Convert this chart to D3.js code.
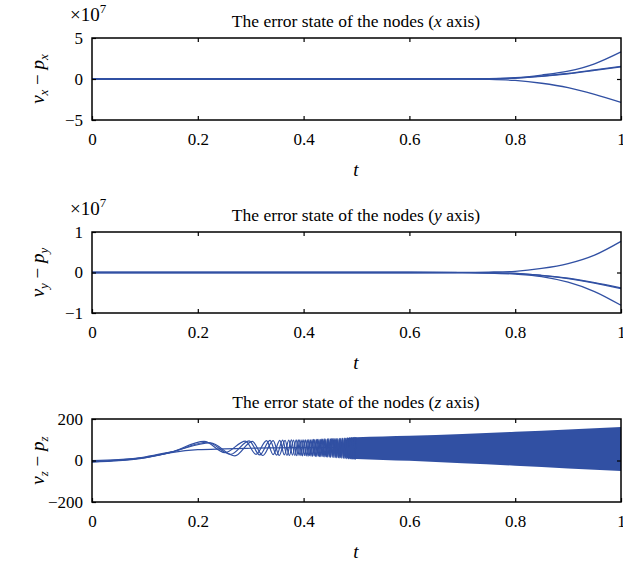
<!DOCTYPE html>
<html>
<head>
<meta charset="utf-8">
<script src="https://cdn.jsdelivr.net/npm/d3@7"></script>
<style>
  body { margin: 0; background: #fff; }
  svg { display: block; font-family: "Liberation Serif", "DejaVu Serif", serif; }
  .tick text { font-size: 17px; fill: #000; font-family: "Liberation Serif", "DejaVu Serif", serif; }
  .tick line { stroke: #000; stroke-width: 1.2; }
</style>
</head>
<body>
<svg width="623" height="561"></svg>
<script>
// ---- data ----
const xTicks = [0, 0.2, 0.4, 0.6, 0.8, 1];

// x panel (units of 1e7)
const tXY = [0, 0.5, 0.7, 0.75, 0.8, 0.85, 0.9, 0.95, 1.0];
const ex1 = [0, 0, 0.01, 0.04, 0.15, 0.48, 0.95, 1.85, 3.3];
const ex2 = [0, 0, 0.01, 0.03, 0.12, 0.35, 0.68, 1.1, 1.54];
const ex3 = [0, 0, 0.005, 0.025, 0.11, 0.33, 0.64, 1.05, 1.47];
const ex4 = [0, 0, -0.01, -0.05, -0.18, -0.52, -1.05, -1.87, -2.85];

// y panel (units of 1e7)
const ey1 = [0, 0, 0.002, 0.01, 0.03, 0.1, 0.22, 0.43, 0.77];
const ey2 = [0, 0, -0.001, -0.006, -0.02, -0.07, -0.14, -0.25, -0.38];
const ey3 = [0, 0, -0.001, -0.007, -0.022, -0.075, -0.15, -0.265, -0.4];
const ey4 = [0, 0, -0.002, -0.012, -0.04, -0.1, -0.24, -0.47, -0.81];

// z panel: extrema of the three oscillating nodes [t, value]
const ezA = [[0,-8],[0.05,-1],[0.1,13],[0.15,40],[0.212,92],[0.251,38],[0.290,93],[0.310,30],[0.330,96],[0.3425,28],
  [0.355,97],[0.3635,27],[0.372,98],[0.379,26],[0.386,99],[0.3915,25],[0.397,100],[0.402,24],[0.407,100],[0.4115,23],
  [0.416,101],[0.420,22],[0.424,102],[0.428,21],[0.4315,102],[0.435,20],[0.4385,103],[0.442,19],[0.445,104],[0.448,18],
  [0.451,104],[0.454,17],[0.457,105],[0.460,16],[0.4625,106],[0.465,15],[0.4675,106],[0.470,14],[0.4725,107],[0.475,13],
  [0.477,108],[0.479,12],[0.4815,108],[0.484,11],[0.486,109],[0.488,10],[0.490,110],[0.492,9],[0.494,110],[0.496,8],[0.498,111]];
const ezB = [[0,-4],[0.05,2],[0.1,15],[0.15,40],[0.218,88],[0.262,30],[0.297,95],[0.317,27],[0.3365,97],[0.349,26],
  [0.3605,98],[0.3685,25],[0.377,99],[0.3835,24],[0.390,100],[0.395,23],[0.4005,100],[0.405,22],[0.410,101],[0.414,21],
  [0.4185,102],[0.4225,20],[0.4265,102],[0.430,19],[0.4335,103],[0.437,18],[0.440,104],[0.4435,17],[0.4465,104],[0.4495,16],
  [0.4525,105],[0.4555,15],[0.458,106],[0.461,14],[0.4635,106],[0.466,13],[0.4685,107],[0.471,12],[0.4735,108],[0.4758,11],
  [0.478,108],[0.480,10],[0.4825,109],[0.485,9],[0.487,110],[0.489,8],[0.491,110],[0.493,7],[0.495,111],[0.497,6],[0.499,112]];
const ezC = [[0,-1],[0.05,4],[0.1,17],[0.15,42],[0.224,85],[0.270,22],[0.303,92],[0.323,24],[0.3425,96],[0.354,24],
  [0.365,97],[0.373,24],[0.381,98],[0.387,23],[0.393,99],[0.398,22],[0.4035,100],[0.4085,21],[0.413,100],[0.417,20],
  [0.421,101],[0.425,19],[0.429,102],[0.4325,18],[0.436,103],[0.439,17],[0.442,103],[0.445,16],[0.448,104],[0.451,15],
  [0.4545,105],[0.4575,14],[0.460,105],[0.4625,13],[0.465,106],[0.4675,12],[0.470,107],[0.4725,11],[0.4745,107],[0.4768,10],
  [0.479,108],[0.4815,9],[0.4835,109],[0.4858,8],[0.488,109],[0.490,7],[0.492,110],[0.494,6],[0.496,111],[0.498,5]];
// smooth (non-oscillating) node
const ezD = [[0,-6],[0.05,0],[0.1,14],[0.15,38],[0.2,52],[0.25,56],[0.3,59],[0.35,61],[0.4,62],[0.45,62],[0.5,61]];

// dense oscillation band envelope (t > ~0.48)
const bandT     = [0.482, 0.5, 0.55, 0.6, 0.7, 0.8, 0.9, 1.0];
const bandUpper = [108, 112, 116, 119, 128, 139, 150, 161];
const bandLower = [11, 7, 3, -1, -13, -25, -38, -50];

const blue = "#3150a3";
const serif = "\"Liberation Serif\", \"DejaVu Serif\", serif";

const svg = d3.select("svg");
const x = d3.scaleLinear().domain([0, 1]).range([92, 621]);

const panels = [
  { top: 38, bottom: 120, domain: [-5, 5], ticks: [-5, 0, 5], axis: "x", exp: true },
  { top: 232, bottom: 313, domain: [-1, 1], ticks: [-1, 0, 1], axis: "y", exp: true },
  { top: 419, bottom: 502, domain: [-200, 200], ticks: [-200, 0, 200], axis: "z", exp: false }
];

panels.forEach(p => {
  p.y = d3.scaleLinear().domain(p.domain).range([p.bottom, p.top]);
  const g = svg.append("g");
  p.g = g;
  p.plot = g.append("g");

  // title
  const title = g.append("text")
    .attr("x", 356).attr("y", p.top - 11)
    .attr("text-anchor", "middle")
    .attr("font-size", 17.5);
  title.append("tspan").text("The error state of the nodes (");
  title.append("tspan").attr("font-style", "italic").text(p.axis);
  title.append("tspan").text(" axis)");

  // y label
  const yl = g.append("text")
    .attr("transform", `translate(44,${(p.top + p.bottom) / 2}) rotate(-90)`)
    .attr("text-anchor", "middle")
    .attr("font-size", 19);
  yl.append("tspan").attr("font-style", "italic").text("v");
  yl.append("tspan").attr("font-style", "italic").attr("font-size", 13).attr("dy", 4).text(p.axis);
  yl.append("tspan").attr("dy", -4).text(" \u2212 ");
  yl.append("tspan").attr("font-style", "italic").text("p");
  yl.append("tspan").attr("font-style", "italic").attr("font-size", 13).attr("dy", 4).text(p.axis);

  // exponent marker
  if (p.exp) {
    const ex = g.append("text").attr("x", 70).attr("y", p.top - 17).attr("font-size", 19);
    ex.append("tspan").text("\u00d710");
    ex.append("tspan").attr("font-size", 13).attr("dy", -8).text("7");
  }

  // x label
  g.append("text")
    .attr("x", 356).attr("y", p.bottom + 56)
    .attr("text-anchor", "middle")
    .attr("font-size", 19)
    .attr("font-style", "italic")
    .text("t");

  // axes with inward ticks
  const fmt = d => d3.format("~g")(d).replace("-", "\u2212");
  const clean = a => { a.select(".domain").remove(); a.attr("font-family", serif).attr("font-size", 17); };
  g.append("g").attr("transform", `translate(0,${p.bottom})`)
    .call(d3.axisBottom(x).tickValues(xTicks).tickSizeInner(-4).tickSizeOuter(0).tickPadding(13).tickFormat(fmt))
    .call(clean);
  g.append("g").attr("transform", `translate(0,${p.top})`)
    .call(d3.axisTop(x).tickValues(xTicks.slice(1, -1)).tickSizeInner(-4).tickSizeOuter(0).tickFormat(""))
    .call(clean);
  g.append("g").attr("transform", `translate(${x(0)},0)`)
    .call(d3.axisLeft(p.y).tickValues(p.ticks).tickSizeInner(-4).tickSizeOuter(0).tickPadding(9).tickFormat(fmt))
    .call(clean);
  g.append("g").attr("transform", `translate(${x(1)},0)`)
    .call(d3.axisRight(p.y).tickValues([0]).tickSizeInner(-4).tickSizeOuter(0).tickFormat(""))
    .call(clean);

  g.append("rect")
    .attr("x", x(0)).attr("y", p.top)
    .attr("width", x(1) - x(0)).attr("height", p.bottom - p.top)
    .attr("fill", "none").attr("stroke", "#000").attr("stroke-width", 1.5);
});

// x and y panels
const smooth = d3.line().curve(d3.curveMonotoneX);
[[panels[0], [ex1, ex2, ex3, ex4]], [panels[1], [ey1, ey2, ey3, ey4]]].forEach(([p, series]) => {
  series.forEach(s => {
    p.plot.append("path")
      .attr("d", smooth(s.map((v, i) => [x(tXY[i]), p.y(v)])))
      .attr("fill", "none").attr("stroke", blue).attr("stroke-width", 1.3);
  });
});

// z panel
const pz = panels[2];
pz.plot.append("path")
  .attr("d", d3.area().curve(d3.curveMonotoneX)
    .x((d, i) => x(bandT[i]))
    .y0((d, i) => pz.y(bandLower[i]))
    .y1((d, i) => pz.y(bandUpper[i]))(bandT))
  .attr("fill", blue);
[ezD, ezA, ezB, ezC].forEach(s => {
  pz.plot.append("path")
    .attr("d", smooth(s.map(d => [x(d[0]), pz.y(d[1])])))
    .attr("fill", "none").attr("stroke", blue).attr("stroke-width", 1.2);
});
</script>
</body>
</html>
